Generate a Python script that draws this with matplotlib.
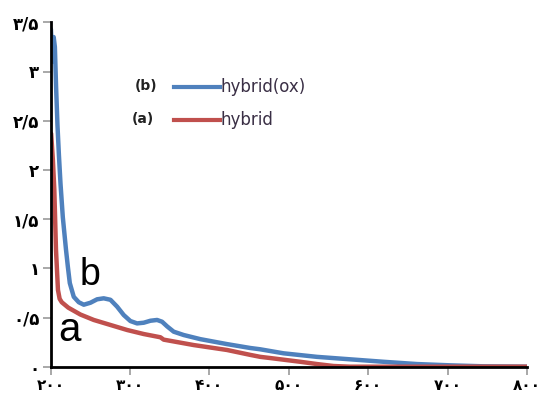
import matplotlib
matplotlib.use("Agg")
from matplotlib import pyplot as plt

# Spectra (wavelength nm, absorbance)
wl_b = [200.5, 202.5, 204, 205.5, 207, 208.8, 210.6, 212.6, 215.5, 219.5, 221.8, 224.3, 229.3,
        235.6, 241.9, 250.3, 258.7, 267, 275.5, 283.9, 292.2, 300.6, 309, 317.4, 325.8, 334.2,
        340.5, 346.8, 355.1, 367.7, 388.7, 422, 451.6, 464, 493.5, 535.5, 577.4, 619.3, 661.3,
        703.1, 745, 800]
abs_b = [3.43, 3.1, 3.35, 3.25, 2.85, 2.45, 2.15, 1.86, 1.52, 1.19, 1.02, 0.85, 0.71,
         0.655, 0.63, 0.65, 0.685, 0.695, 0.68, 0.61, 0.525, 0.464, 0.44, 0.447, 0.467, 0.475,
         0.457, 0.41, 0.356, 0.322, 0.28, 0.23, 0.19, 0.177, 0.136, 0.10, 0.075, 0.05, 0.027,
         0.014, 0.004, 0.0]

wl_a = [200.8, 203, 204.8, 206.9, 209.4, 211.5, 214.2, 222.4, 237.7, 254.5, 275.5, 296.5,
        317.4, 338.4, 342.5, 380.3, 422.2, 451.6, 464.2, 476.7, 514.5, 535.5, 556.4, 577, 800]
abs_a = [2.37, 2.1, 1.8, 1.19, 0.78, 0.69, 0.655, 0.6, 0.53, 0.475, 0.424, 0.373,
         0.332, 0.299, 0.275, 0.22, 0.17, 0.12, 0.10, 0.088, 0.05, 0.027, 0.007, 0.0, 0.0]

x_ticks = [200, 300, 400, 500, 600, 700, 800]
y_ticks = [0, 0.5, 1, 1.5, 2, 2.5, 3, 3.5]


def persian(v):
    """Numero con digitos persas."""
    digits = "۰۱۲۳۴۵۶۷۸۹"
    s = f"{v:g}".replace(".", "/")
    return "".join(digits[int(c)] if c.isdigit() else c for c in s)


fig = plt.figure(figsize=(5.44, 3.94), dpi=100)
ax = fig.add_axes([50.5 / 544, 27.3 / 394, (527 - 50.5) / 544, (366.7 - 22.3) / 394])

ax.plot(wl_b, abs_b, color="#4F81BD", lw=3.2, solid_joinstyle="round", solid_capstyle="round")
ax.plot(wl_a, abs_a, color="#C0504D", lw=3.2, solid_joinstyle="round", solid_capstyle="round")

ax.set_xlim(200, 800)
ax.set_ylim(0, 3.5)
ax.set_xticks(x_ticks)
ax.set_yticks(y_ticks)
ax.set_xticklabels([persian(v) for v in x_ticks], fontsize=11, fontweight="bold")
ax.set_yticklabels([persian(v) for v in y_ticks], fontsize=12, fontweight="bold")
ax.tick_params(axis="both", direction="out", length=6, width=1.2, color="#999999", pad=2)

for side in ["top", "right"]:
    ax.spines[side].set_visible(False)
for side in ["left", "bottom"]:
    ax.spines[side].set_linewidth(2)
    ax.spines[side].set_color("black")
    ax.spines[side].set_zorder(3)

# Legend drawn by hand like the original
ax.text(334.6, 2.85, "(b)", fontsize=10, fontweight="bold", color="#222222",
        ha="right", va="center")
ax.text(330.8, 2.52, "(a)", fontsize=10, fontweight="bold", color="#222222",
        ha="right", va="center")
ax.plot([356, 414], [2.84, 2.84], color="#4F81BD", lw=3)
ax.plot([356, 414], [2.51, 2.51], color="#C0504D", lw=3)
ax.text(414, 2.84, "hybrid(ox)", fontsize=12, color="#3a2f45", va="center")
ax.text(414, 2.51, "hybrid", fontsize=12, color="#3a2f45", va="center")

# Curve letters
ax.text(249.9, 0.93, "b", fontsize=27, family="Liberation Sans", color="black",
        va="center", ha="center")
ax.text(223.6, 0.37, "a", fontsize=29, family="Liberation Sans", color="black",
        va="center", ha="center")

fig.savefig("out.png", dpi=100)
